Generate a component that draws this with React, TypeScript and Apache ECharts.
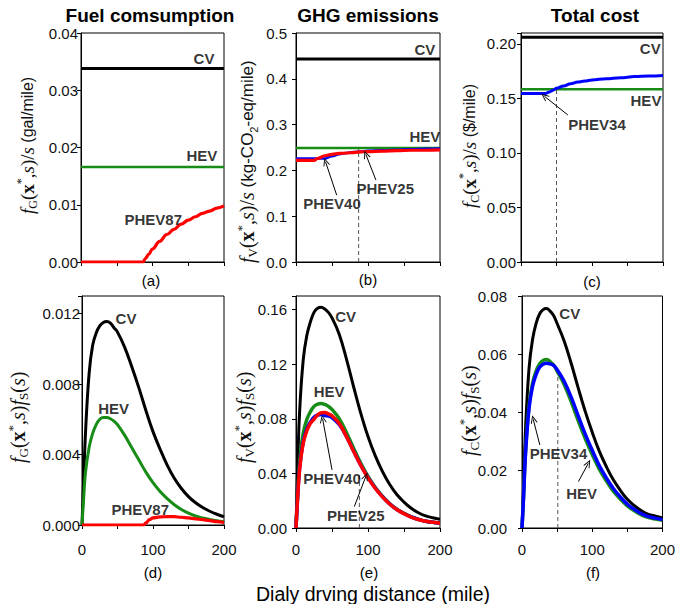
import React, { useEffect, useRef } from 'react';
import * as echarts from 'echarts';

// ---------- data ----------
const flatX = [0, 200];
const fuelCV = [0.0338, 0.0338];
const fuelHEV = [0.0166, 0.0166];
const fuelPhevX = [0, 87, 90, 95, 100, 110, 120, 130, 140, 150, 160, 170, 180, 190, 200];
const fuelPhev87 = [0, 0, 0.0006, 0.0014, 0.0023, 0.0036, 0.0048, 0.0057, 0.0066, 0.0073, 0.0079, 0.0085, 0.0089, 0.0094, 0.0098];

const ghgCV = [0.443, 0.443];
const ghgHEV = [0.249, 0.249];
const ghgPhev40X = [0, 40, 50, 60, 70, 80, 90, 100, 120, 140, 160, 180, 200];
const ghgPhev40 = [0.226, 0.226, 0.231, 0.235, 0.238, 0.24, 0.241, 0.243, 0.244, 0.245, 0.246, 0.247, 0.248];
const ghgPhev25X = [0, 25, 30, 40, 50, 60, 70, 80, 90, 100, 120, 140, 160, 180, 200];
const ghgPhev25 = [0.222, 0.222, 0.226, 0.232, 0.235, 0.237, 0.238, 0.239, 0.2405, 0.241, 0.242, 0.243, 0.244, 0.244, 0.245];

const costCV = [0.206, 0.206];
const costHEV = [0.1585, 0.1585];
const costPhev34X = [0, 34, 40, 45, 50, 60, 70, 80, 90, 100, 120, 140, 160, 180, 200];
const costPhev34 = [0.1545, 0.1545, 0.156, 0.1575, 0.1593, 0.1615, 0.1635, 0.165, 0.166, 0.167, 0.168, 0.169, 0.17, 0.1705, 0.171];

const S = [0, 2, 5, 10, 15, 20, 25, 30, 35, 40, 45, 50, 60, 70, 80, 90, 100, 110, 120, 130, 140, 150, 160, 170, 180, 190, 200];
const dCV = [0, 0.0022, 0.0053, 0.0086, 0.0102, 0.0109, 0.0113, 0.0115, 0.01155, 0.01146, 0.0112, 0.01095, 0.0101, 0.009, 0.0078, 0.0065, 0.0053, 0.0043, 0.0034, 0.00265, 0.00207, 0.00161, 0.00126, 0.00099, 0.00078, 0.00061, 0.00047];
const dHEV = [0, 0.0013, 0.003, 0.0044, 0.0052, 0.0057, 0.006, 0.0061, 0.0061, 0.00603, 0.0059, 0.0057, 0.0051, 0.0044, 0.0037, 0.003, 0.0024, 0.0019, 0.0015, 0.00115, 0.00088, 0.00067, 0.00051, 0.0004, 0.00031, 0.00024, 0.00019];
const dPhevX = [0, 87, 90, 95, 100, 110, 120, 130, 140, 150, 160, 170, 180, 190, 200];
const dPhev87 = [0, 0, 0.00012, 0.0003, 0.0004, 0.00046, 0.00048, 0.00047, 0.00044, 0.0004, 0.00035, 0.0003, 0.00025, 0.00019, 0.00014];

const eCV = [0, 0.039, 0.085, 0.123, 0.141, 0.151, 0.158, 0.161, 0.1617, 0.1605, 0.158, 0.154, 0.142, 0.124, 0.1035, 0.084, 0.067, 0.053, 0.0415, 0.032, 0.0245, 0.019, 0.0145, 0.0112, 0.0089, 0.0075, 0.0064];
const eHEV = [0, 0.022, 0.0479, 0.0694, 0.0795, 0.0852, 0.0891, 0.0908, 0.0912, 0.0905, 0.0891, 0.0869, 0.0801, 0.07, 0.0584, 0.0474, 0.0378, 0.0299, 0.0234, 0.018, 0.0138, 0.0107, 0.0082, 0.0063, 0.005, 0.0042, 0.0036];
const ePhev40 = [0, 0.02, 0.0437, 0.0632, 0.0724, 0.0776, 0.0812, 0.0827, 0.0831, 0.0824, 0.0821, 0.0809, 0.0758, 0.0671, 0.0564, 0.046, 0.037, 0.0293, 0.023, 0.0177, 0.0136, 0.0106, 0.0081, 0.0063, 0.0049, 0.0042, 0.0036];
const ePhev25 = [0, 0.0197, 0.0429, 0.0621, 0.0711, 0.0767, 0.0797, 0.0828, 0.0845, 0.0846, 0.0836, 0.0822, 0.0765, 0.0671, 0.0562, 0.0459, 0.0367, 0.0291, 0.0228, 0.0176, 0.0135, 0.0105, 0.008, 0.0062, 0.0049, 0.0042, 0.0035];

const fCV = [0, 0.0125, 0.034, 0.055, 0.065, 0.0705, 0.0738, 0.0753, 0.0757, 0.0748, 0.0733, 0.0705, 0.0645, 0.0568, 0.0483, 0.0402, 0.033, 0.0265, 0.0212, 0.0166, 0.013, 0.0099, 0.0077, 0.0059, 0.0047, 0.0041, 0.0035];
const fHEV = [0, 0.0096, 0.0261, 0.0422, 0.0499, 0.0541, 0.0566, 0.0578, 0.0581, 0.0574, 0.0562, 0.0541, 0.0495, 0.0436, 0.037, 0.0308, 0.0253, 0.0203, 0.0163, 0.0127, 0.01, 0.0076, 0.0059, 0.0045, 0.0036, 0.0031, 0.0027];
const fPhev34 = [0, 0.0094, 0.0255, 0.0413, 0.0488, 0.0529, 0.0554, 0.0565, 0.0568, 0.0566, 0.0561, 0.0546, 0.0506, 0.0451, 0.0387, 0.0324, 0.0268, 0.0215, 0.0173, 0.0136, 0.0107, 0.0082, 0.0064, 0.0049, 0.0039, 0.0034, 0.0029];

// threshold (dashed) lines: [panel, s, top value]
const dashed: [number, number, number][] = [
  [1, 87, 0.248],
  [2, 50, 0.159],
  [4, 88, 0.04],
  [5, 51, 0.053],
];

// annotation labels: [panel, s, value, text]
const labels: [number, number, number, string][] = [
  [0, 172, 0.0355, 'CV'], [0, 169, 0.0186, 'HEV'], [0, 101, 0.0075, 'PHEV87'],
  [1, 179, 0.463, 'CV'], [1, 179, 0.273, 'HEV'], [1, 50, 0.128, 'PHEV40'], [1, 124, 0.161, 'PHEV25'],
  [2, 182, 0.1962, 'CV'], [2, 176, 0.1479, 'HEV'], [2, 107, 0.1265, 'PHEV34'],
  [3, 62, 0.0117, 'CV'], [3, 44.5, 0.0066, 'HEV'], [3, 82, 0.0009, 'PHEV87'],
  [4, 69, 0.155, 'CV'], [4, 46, 0.0997, 'HEV'], [4, 50, 0.0365, 'PHEV40'], [4, 83, 0.0088, 'PHEV25'],
  [5, 68, 0.0738, 'CV'], [5, 52, 0.0258, 'PHEV34'], [5, 85, 0.012, 'HEV'],
];

// arrows: [panel, s0, v0, s1, v1]
const arrows: [number, number, number, number, number][] = [
  [1, 56.5, 0.146, 41, 0.219],
  [1, 111, 0.179, 97, 0.235],
  [2, 66, 0.1348, 33, 0.152],
  [4, 50, 0.0426, 37, 0.08],
  [4, 81, 0.0157, 97, 0.0378],
  [5, 25.4, 0.0286, 16, 0.0375],
  [5, 80.3, 0.016, 94.4, 0.0223],
];

const yMax = [0.04, 0.5, 0.21, 0.013, 0.17, 0.08];
const yInterval = [0.01, 0.1, 0.05, 0.004, 0.04, 0.02];
const yDecimals = [2, 1, 2, 3, 2, 2];
const yLabelMargin = [3, 9, 5, 2, 9, 15];

// ---------- helpers ----------
const zip = (xs: number[], ys: number[]) => xs.map((x, i) => [x, ys[i]]);
const BLACK = '#000000';
const GREEN = '#178c17';
const RED = '#ff0000';
const BLUE = '#0000ff';
const SANS = 'Liberation Sans';
const SERIF = 'Liberation Serif';

function line(gi: number, xs: number[], ys: number[], color: string, width: number, smooth = false, mono = false) {
  return {
    type: 'line',
    xAxisIndex: gi,
    yAxisIndex: gi,
    data: zip(xs, ys),
    showSymbol: false,
    symbol: 'none',
    smooth: smooth ? 0.4 : false,
    ...(mono ? { smoothMonotone: 'x' } : {}),
    lineStyle: { color, width },
    itemStyle: { color },
    silent: true,
  };
}

const grids = [
  { left: 81, top: 33, width: 143, height: 229 },
  { left: 296, top: 33, width: 144, height: 229 },
  { left: 521, top: 33, width: 142, height: 229 },
  { left: 82, top: 296, width: 142, height: 229 },
  { left: 296, top: 296, width: 144, height: 232 },
  { left: 522, top: 296, width: 142, height: 232 },
].map((g) => ({ ...g, show: true, borderColor: '#000', borderWidth: 1, backgroundColor: 'transparent' }));

const xAxes = grids.map((_, i) => ({
  type: 'value',
  gridIndex: i,
  min: 0,
  max: 200,
  interval: 50,
  axisLine: { show: true, lineStyle: { color: '#000', width: 1 } },
  axisTick: { show: true, inside: false, length: 4, lineStyle: { color: '#000' } },
  splitLine: { show: false },
  axisLabel: {
    show: i >= 3,
    margin: i === 3 ? 17 : 14,
    fontSize: 15,
    fontFamily: SANS,
    color: '#111',
    formatter: (v: number) => (v % 100 === 0 ? String(v) : ''),
  },
}));

const yAxes = grids.map((_, i) => ({
  type: 'value',
  gridIndex: i,
  min: 0,
  max: yMax[i],
  interval: yInterval[i],
  axisLine: { show: true, lineStyle: { color: '#000', width: 1 } },
  axisTick: { show: true, inside: false, length: 4, lineStyle: { color: '#000' } },
  splitLine: { show: false },
  axisLabel: {
    margin: yLabelMargin[i],
    fontSize: 15,
    fontFamily: SANS,
    color: '#111',
    formatter: (v: number) => {
      const k = v / yInterval[i];
      return Math.abs(k - Math.round(k)) < 1e-6 ? v.toFixed(yDecimals[i]) : '';
    },
  },
}));

const arrowPath = 'path://M0,10 L5,0 L10,10 L8.6,10 L5,2.8 L1.4,10 Z';

const labelSeries = grids.map((_, gi) => ({
  type: 'scatter',
  xAxisIndex: gi,
  yAxisIndex: gi,
  symbolSize: 1,
  itemStyle: { color: 'transparent' },
  silent: true,
  z: 10,
  data: labels.filter((l) => l[0] === gi).map((l) => [l[1], l[2], l[3]]),
  label: {
    show: true,
    position: 'inside',
    formatter: (p: any) => p.data[2],
    color: '#000',
    fontWeight: 'bold',
    fontSize: 15,
    fontFamily: SANS,
  },
  markLine: {
    silent: true,
    symbol: ['none', arrowPath],
    symbolSize: [7, 8],
    label: { show: false },
    lineStyle: { color: '#000', width: 1, type: 'solid' },
    emphasis: { disabled: true },
    data: arrows
      .filter((a) => a[0] === gi)
      .map((a) => [{ coord: [a[1], a[2]] }, { coord: [a[3], a[4]] }]),
  },
}));

const dashedSeries = dashed.map((d) => ({
  type: 'line',
  xAxisIndex: d[0],
  yAxisIndex: d[0],
  data: [[d[1], 0], [d[1], d[2]]],
  showSymbol: false,
  symbol: 'none',
  lineStyle: { color: '#555', width: 1, type: [4, 3] },
  silent: true,
  z: 1,
}));

const series: any[] = [
  ...dashedSeries,
  line(0, flatX, fuelCV, BLACK, 3),
  line(0, flatX, fuelHEV, GREEN, 2.5),
  line(0, fuelPhevX, fuelPhev87, RED, 3.2, true, true),
  line(1, flatX, ghgCV, BLACK, 3),
  line(1, flatX, ghgHEV, GREEN, 2.5),
  line(1, ghgPhev40X, ghgPhev40, BLUE, 2.5, true, true),
  line(1, ghgPhev25X, ghgPhev25, RED, 3.2, true, true),
  line(2, flatX, costCV, BLACK, 3),
  line(2, flatX, costHEV, GREEN, 2.5),
  line(2, costPhev34X, costPhev34, BLUE, 3, true, true),
  line(3, S, dCV, BLACK, 3, true),
  line(3, S, dHEV, GREEN, 3, true),
  line(3, dPhevX, dPhev87, RED, 3.2, true, true),
  line(4, S, eCV, BLACK, 3, true),
  line(4, S, eHEV, GREEN, 3.5, true),
  line(4, S, ePhev40, BLUE, 3.5, true),
  line(4, S, ePhev25, RED, 3.5, true),
  line(5, S, fCV, BLACK, 3, true),
  line(5, S, fHEV, GREEN, 3.5, true),
  line(5, S, fPhev34, BLUE, 3.5, true),
  ...labelSeries,
];

// ---------- y-axis titles (rich text) ----------
const makeRich = (m: number, u: number) => ({
  it: { fontFamily: SERIF, fontStyle: 'italic', fontSize: m, lineHeight: 24, fill: '#111' },
  rm: { fontFamily: SERIF, fontSize: m, lineHeight: 24, fill: '#111' },
  bf: { fontFamily: SERIF, fontWeight: 'bold', fontSize: m, lineHeight: 24, fill: '#111' },
  sub: { fontFamily: SERIF, fontSize: Math.round(m * 0.65), verticalAlign: 'bottom', fill: '#111' },
  sup: { fontFamily: SERIF, fontSize: Math.round(m * 0.65), verticalAlign: 'top', fill: '#111' },
  sa: { fontFamily: SANS, fontSize: u, lineHeight: 24, fill: '#111' },
  sasub: { fontFamily: SANS, fontSize: Math.round(u * 0.65), verticalAlign: 'bottom', fill: '#111' },
});
const core = (k: string) => `{it|f}{sub|${k}}{rm|(}{bf|x}{sup|*}{rm|,}{it|s}{rm|)}`;
// [text, x centre, bottom y, math size, unit size]
const yTitles: [string, number, number, number, number][] = [
  [`${core('G')}{rm|/}{it|s}{sa| (gal/mile)}`, 27, 214, 19, 16],
  [`${core('V')}{rm|/}{it|s}{sa| (kg-CO}{sasub|2}{sa|-eq/mile)}`, 247, 263, 20, 17],
  [`${core('C')}{rm|/}{it|s}{sa| ($/mile)}`, 469, 208, 19, 16],
  [`${core('G')}{it|f}{sub|S}{rm|(}{it|s}{rm|)}`, 18, 463, 20, 16],
  [`${core('V')}{it|f}{sub|S}{rm|(}{it|s}{rm|)}`, 244, 463, 20, 16],
  [`${core('C')}{it|f}{sub|S}{rm|(}{it|s}{rm|)}`, 469, 456, 20, 16],
];

const plainText = (text: string, x: number, y: number, size: number, bold = false) => ({
  type: 'text',
  x,
  y,
  silent: true,
  style: {
    text,
    fontFamily: SANS,
    fontSize: size,
    fontWeight: bold ? 'bold' : 'normal',
    fill: '#000',
    align: 'center',
    verticalAlign: 'middle',
  },
});

const graphic: any[] = [
  plainText('Fuel comsumption', 150, 15, 19, true),
  plainText('GHG emissions', 368, 15, 19, true),
  plainText('Total cost', 595, 15, 19, true),
  plainText('(a)', 151, 280, 15),
  plainText('(b)', 368, 279, 15),
  plainText('(c)', 592, 281, 15),
  plainText('(d)', 153, 572, 15),
  plainText('(e)', 369, 572, 15),
  plainText('(f)', 593, 572, 15),
  plainText('Dialy drving distance (mile)', 373, 594, 19.5),
  ...yTitles.map(([t, x, y, m, u]) => ({
    type: 'text',
    x,
    y,
    rotation: Math.PI / 2,
    silent: true,
    style: { text: t, rich: makeRich(m, u), fill: '#111', align: 'left', verticalAlign: 'middle' },
  })),
];

export default function App() {
  const ref = useRef<HTMLDivElement>(null);
  useEffect(() => {
    const chart = echarts.init(ref.current!, null, { renderer: 'svg' });
    chart.setOption({
      animation: false,
      backgroundColor: '#ffffff',
      textStyle: { fontFamily: SANS },
      grid: grids,
      xAxis: xAxes,
      yAxis: yAxes,
      series,
      graphic,
    });
    return () => chart.dispose();
  }, []);
  return (
    <div
      ref={ref}
      style={{ position: 'absolute', left: 0, top: 0, width: 678, height: 604, background: '#fff' }}
    />
  );
}
